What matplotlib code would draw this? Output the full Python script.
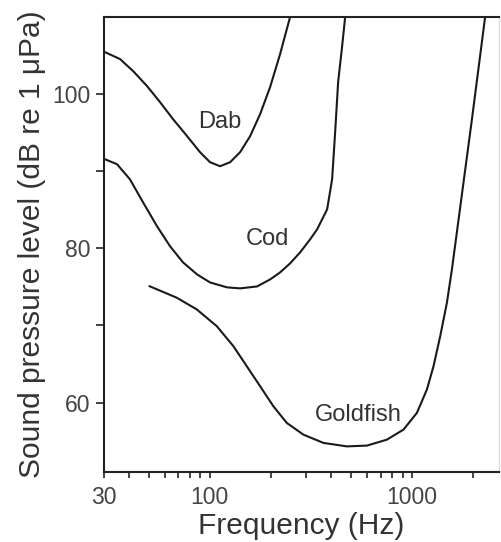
import numpy as np
import matplotlib
matplotlib.use('Agg')
from matplotlib import pyplot as plt
from matplotlib.ticker import FixedLocator, NullFormatter

plt.rcParams['font.family'] = ['Liberation Sans', 'DejaVu Sans']

# threshold curves (Hz, dB re 1 uPa)
dab_f = [30.3, 36.0, 41.8, 49.0, 56.8, 65.9, 77.3, 89.6, 100.4, 112.6, 126.2, 141.4, 158.5, 177.6, 199.0, 223.0, 249.9]
dab_db = [105.45, 104.55, 102.99, 101.04, 98.96, 96.75, 94.55, 92.47, 91.17, 90.65, 91.17, 92.47, 94.55, 97.4, 100.91, 105.19, 110.0]

cod_f = [30.3, 34.8, 40.3, 46.8, 54.9, 63.7, 73.8, 86.6, 100.4, 121.9, 141.4, 171.6, 199.0, 223.0,
         249.9, 280.2, 314.0, 340.1, 381.1, 403.4, 417.5, 432.0, 452.2, 468.0]
cod_db = [91.56, 90.91, 88.96, 85.97, 82.86, 80.26, 78.18, 76.62, 75.58, 74.94, 74.81, 75.06, 75.97, 76.88,
          78.05, 79.48, 81.17, 82.47, 85.06, 88.96, 95.06, 101.56, 106.23, 110.0]

gold_f = [50.3, 68.7, 86.3, 108.4, 131.0, 152.6, 177.6, 206.6, 240.7, 290.9, 365.3, 477.1, 599.2, 752.6,
          909.4, 1059.5, 1187.5, 1280.4, 1382.1, 1491.6, 1579.2, 1983.8, 2307.9]
gold_db = [75.1, 73.6, 72.08, 69.91, 67.31, 64.71, 62.12, 59.52, 57.36, 55.84, 54.77, 54.32, 54.42, 55.19,
           56.49, 58.66, 61.69, 64.71, 68.61, 72.95, 77.27, 96.75, 110.1]

labels = ['Dab', 'Cod', 'Goldfish']
label_f = [112, 192, 542]
label_db = [96.4, 81.2, 58.4]

x_major = [30, 100, 1000]
x_minor = [40, 50, 60, 70, 80, 90, 200, 300, 400, 500, 600, 700, 800, 900, 2000]
y_major = [60, 80, 100]
y_minor = [70, 90]

fig = plt.figure(figsize=(5.01, 5.42), dpi=100)
ax = fig.add_axes([0.2076, 0.1292, 0.7884, 0.8394])

for f, db in [(dab_f, dab_db), (cod_f, cod_db), (gold_f, gold_db)]:
    ax.plot(f, db, color='#1a1a1a', lw=1.5, solid_capstyle='round', solid_joinstyle='round')

for name, f, db in zip(labels, label_f, label_db):
    ax.text(f, db, name, ha='center', va='center', fontsize=17, color='#333333')

ax.set_xscale('log')
ax.set_xlim(30, 2700)
ax.set_ylim(51, 110)

ax.xaxis.set_major_locator(FixedLocator(x_major))
ax.xaxis.set_minor_locator(FixedLocator(x_minor))
ax.set_xticklabels([str(v) for v in x_major])
ax.xaxis.set_minor_formatter(NullFormatter())
ax.yaxis.set_major_locator(FixedLocator(y_major))
ax.yaxis.set_minor_locator(FixedLocator(y_minor))

ax.tick_params(axis='both', which='both', direction='out', width=1.2, color='#222222',
               labelsize=16.5, labelcolor='#444444')
ax.tick_params(axis='x', which='both', length=4, pad=6)
ax.tick_params(axis='y', which='both', length=6, pad=4)

for side in ['left', 'top', 'bottom']:
    ax.spines[side].set_linewidth(1.5)
    ax.spines[side].set_color('#222222')
ax.spines['right'].set_linewidth(1.0)
ax.spines['right'].set_color('#dddddd')

ax.set_xlabel('Frequency (Hz)', fontsize=21.5, color='#333333', labelpad=2)
ax.set_ylabel('Sound pressure level (dB re 1 μPa)', fontsize=21.5, color='#333333', labelpad=4)

fig.savefig('out.png', dpi=100)
